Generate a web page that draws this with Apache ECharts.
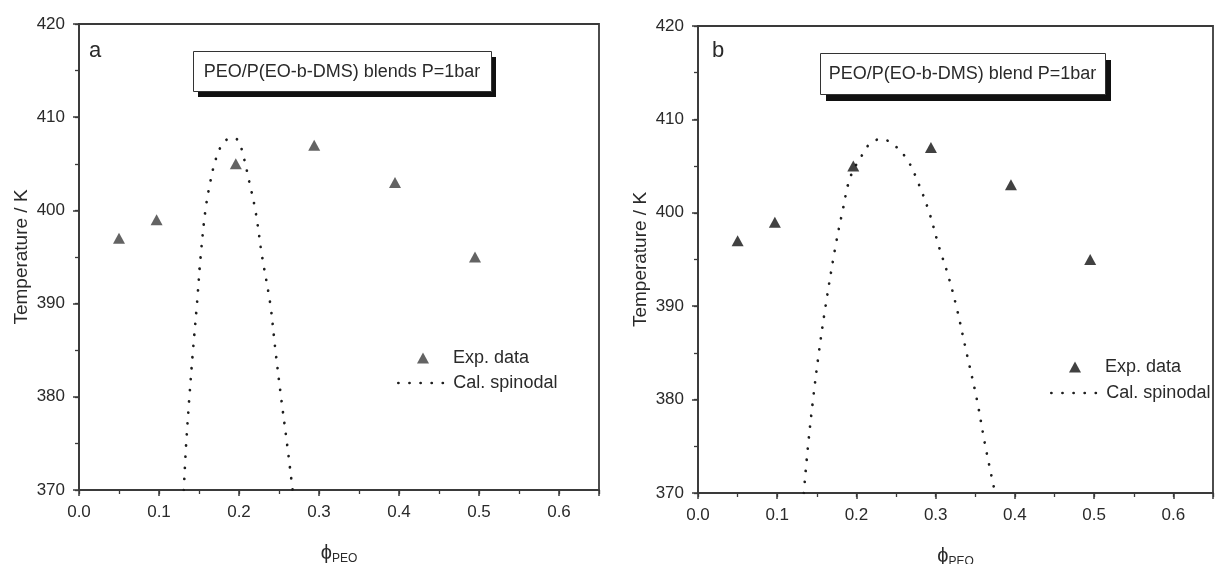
<!DOCTYPE html>
<html>
<head>
<meta charset="utf-8">
<script src="https://cdn.jsdelivr.net/npm/echarts@6/dist/echarts.min.js"></script>
<style>
html,body{margin:0;padding:0;background:#fff;}
#chart{width:1217px;height:564px;}
</style>
</head>
<body>
<div id="chart"></div>
<script>
// ---------------- data ----------------
const phiExp = [0.050, 0.097, 0.196, 0.294, 0.395, 0.495];
const tempExp = [397, 399, 405, 407, 403, 395];

const phiSpinA = [0.131, 0.134, 0.138, 0.1425, 0.1475, 0.152, 0.158, 0.164, 0.171, 0.180, 0.191, 0.199, 0.205, 0.213, 0.2205, 0.229, 0.239, 0.2455, 0.2525, 0.260, 0.267];
const tempSpinA = [370, 375, 380, 385, 390, 395, 400, 403, 405.5, 407.2, 407.8, 407.5, 406, 403, 400, 395, 390, 385, 380, 375, 370];

const phiSpinB = [0.1335, 0.1388, 0.1452, 0.1525, 0.161, 0.1735, 0.182, 0.1926, 0.2087, 0.217, 0.2307, 0.2454, 0.264, 0.278, 0.292, 0.304, 0.315, 0.326, 0.339, 0.352, 0.3627, 0.375];
const tempSpinB = [370, 375, 380, 385, 390, 396.4, 400, 403.9, 406.4, 407.4, 407.9, 407.4, 405.7, 403.2, 400, 396.4, 393.5, 390, 385, 380, 375, 370];

const panelTitles = ['PEO/P(EO-b-DMS) blends P=1bar', 'PEO/P(EO-b-DMS) blend P=1bar'];
const panelLetters = ['a', 'b'];
const legendNames = ['Exp. data', 'Cal. spinodal'];
const yAxisTitle = 'Temperature / K';
const xAxisSymbol = 'ϕ';
const xAxisSub = 'PEO';
const xRange = [0, 0.65];
const yRange = [370, 420];
const xMajor = 0.1, xMinor = 0.05;
const yMajor = 10, yMinor = 5;

// ---------------- styling ----------------
const FONT = "'Liberation Sans', Arial, Helvetica, sans-serif";
const AXIS_COLOR = '#3a3a3a';
const TEXT_COLOR = '#2a2a2a';

const grids = [
  {left: 79, top: 24, width: 520, height: 466},
  {left: 698, top: 26, width: 515, height: 467}
];
// title boxes: [left, top, width, height, shadowDx, shadowDy]
const boxes = [
  [193, 51, 298, 40, 5, 6],
  [820, 53, 285, 41, 6, 7]
];
const letterPos = [[89, 40], [712, 40]];
// legend anchors: [triangle-left, triangle-top, line-left, line-top]
const legendPos = [
  [417, 349, 397, 374],
  [1069, 358, 1050, 384]
];

function zip(xs, ys) { return xs.map((x, i) => [x, ys[i]]); }

function xLabelFmt(v) {
  const k = v / xMajor;
  return Math.abs(k - Math.round(k)) < 1e-6 ? v.toFixed(1) : '';
}

const xAxes = [], yAxes = [];
grids.forEach((g, gi) => {
  xAxes.push({
    type: 'value', gridIndex: gi, min: xRange[0], max: xRange[1], interval: xMajor,
    position: 'bottom',
    axisLine: {show: true, onZero: false, lineStyle: {color: AXIS_COLOR, width: 1.8}},
    axisTick: {show: true, length: 6, lineStyle: {color: AXIS_COLOR, width: 1.5}},
    splitLine: {show: false},
    axisLabel: {show: true, margin: 14, fontFamily: FONT, fontSize: 17, color: TEXT_COLOR, formatter: xLabelFmt},
    name: '{a|' + xAxisSymbol + '}{b|' + xAxisSub + '}',
    nameLocation: 'middle', nameGap: 52,
    nameTextStyle: {
      fontFamily: FONT, color: TEXT_COLOR,
      rich: {
        a: {fontFamily: FONT, fontSize: 20, color: TEXT_COLOR},
        b: {fontFamily: FONT, fontSize: 12, color: TEXT_COLOR, padding: [11, 0, 0, 0]}
      }
    }
  });
  xAxes.push({
    type: 'value', gridIndex: gi, min: xRange[0], max: xRange[1], interval: xMinor,
    position: 'bottom',
    axisLine: {show: false, onZero: false},
    axisTick: {show: true, length: 4, lineStyle: {color: AXIS_COLOR, width: 1.3}},
    splitLine: {show: false},
    axisLabel: {show: false}
  });
  yAxes.push({
    type: 'value', gridIndex: gi, min: yRange[0], max: yRange[1], interval: yMajor,
    position: 'left',
    axisLine: {show: true, onZero: false, lineStyle: {color: AXIS_COLOR, width: 1.8}},
    axisTick: {show: true, length: 6, lineStyle: {color: AXIS_COLOR, width: 1.5}},
    splitLine: {show: false},
    axisLabel: {show: true, margin: 14, fontFamily: FONT, fontSize: 17, color: TEXT_COLOR},
    name: yAxisTitle, nameLocation: 'middle', nameGap: 48,
    nameTextStyle: {fontFamily: FONT, fontSize: 19, color: TEXT_COLOR}
  });
  yAxes.push({
    type: 'value', gridIndex: gi, min: yRange[0], max: yRange[1], interval: yMinor,
    position: 'left', offset: 0,
    axisLine: {show: false, onZero: false},
    axisTick: {show: true, length: 4, lineStyle: {color: AXIS_COLOR, width: 1.3}},
    splitLine: {show: false},
    axisLabel: {show: false}
  });
});

const markerColors = ['#3c3c3c', '#111111'];
const spinData = [zip(phiSpinA, tempSpinA), zip(phiSpinB, tempSpinB)];
const series = [];
[0, 1].forEach(gi => {
  series.push({
    type: 'scatter', name: legendNames[0],
    xAxisIndex: gi * 2, yAxisIndex: gi * 2,
    symbol: 'triangle', symbolSize: [12, 11],
    itemStyle: {color: markerColors[gi]},
    data: zip(phiExp, tempExp), z: 5
  });
  series.push({
    type: 'line', name: legendNames[1],
    xAxisIndex: gi * 2, yAxisIndex: gi * 2,
    symbol: 'none', smooth: 0.35, clip: true,
    lineStyle: {color: '#1e1e1e', width: 2.7, type: [0.1, 11], cap: 'round'},
    itemStyle: {color: '#1e1e1e'},
    data: spinData[gi], z: 4
  });
});

const graphics = [];
boxes.forEach((b, i) => {
  graphics.push({type: 'rect', left: b[0] + b[4], top: b[1] + b[5], z: 10,
    shape: {width: b[2], height: b[3]}, style: {fill: '#111'}});
  graphics.push({type: 'rect', left: b[0], top: b[1], z: 11,
    shape: {width: b[2], height: b[3]}, style: {fill: '#fff', stroke: '#333', lineWidth: 1}});
  graphics.push({type: 'text', x: b[0] + b[2] / 2, y: b[1] + b[3] / 2 + 1, z: 12,
    style: {text: panelTitles[i], fill: TEXT_COLOR, font: '18px ' + FONT, textAlign: 'center', textVerticalAlign: 'middle', align: 'center', verticalAlign: 'middle'}});
  graphics.push({type: 'text', x: letterPos[i][0], y: letterPos[i][1], z: 12,
    style: {text: panelLetters[i], fill: TEXT_COLOR, font: '22px ' + FONT, textVerticalAlign: 'top', verticalAlign: 'top'}});
});

const legends = [];
legendPos.forEach((p, i) => {
  legends.push({data: [legendNames[0]], left: p[0], top: p[1], orient: 'vertical', padding: 0,
    itemWidth: 12, itemHeight: 11, selectedMode: false, icon: 'triangle',
    itemStyle: {color: markerColors[i]},
    textStyle: {fontFamily: FONT, fontSize: 18, color: TEXT_COLOR, padding: [0, 0, 0, 19]}});
  legends.push({data: [{name: legendNames[1], itemStyle: {opacity: 0}}], left: p[2], top: p[3], orient: 'vertical', padding: 0,
    itemWidth: 50, itemHeight: 11, selectedMode: false,
    lineStyle: {color: '#1e1e1e', width: 2.7, type: [0.1, 11], cap: 'round'},
    textStyle: {fontFamily: FONT, fontSize: 18, color: TEXT_COLOR}});
});

const option = {
  animation: false,
  backgroundColor: '#fff',
  grid: grids.map(g => Object.assign({show: true, borderColor: AXIS_COLOR, borderWidth: 1.8, backgroundColor: 'transparent', containLabel: false, outerBoundsMode: 'none'}, g)),
  xAxis: xAxes,
  yAxis: yAxes,
  legend: legends,
  graphic: graphics,
  series: series
};

const chart = echarts.init(document.getElementById('chart'), null, {renderer: 'canvas'});
chart.setOption(option);
</script>
</body>
</html>
